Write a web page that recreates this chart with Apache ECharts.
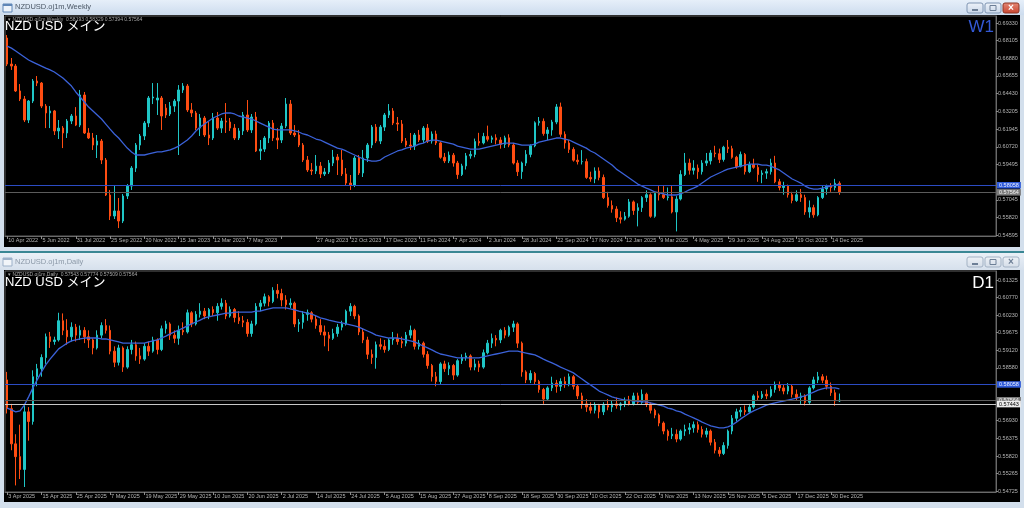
<!DOCTYPE html>
<html><head><meta charset="utf-8">
<script src="https://cdn.jsdelivr.net/npm/echarts@6/dist/echarts.min.js"></script>
<style>html,body{margin:0;padding:0;background:#cfdcec;overflow:hidden}#c{width:1024px;height:508px}</style>
</head><body><div id="c"></div>
<script>
// ---------------- Weekly (W1) data : week starting 10 Apr 2022 ... 28 Dec 2025 ----------------
const weeklyTickLabels = ['10 Apr 2022','5 Jun 2022','31 Jul 2022','25 Sep 2022','20 Nov 2022','15 Jan 2023','12 Mar 2023','7 May 2023','','27 Aug 2023','22 Oct 2023','17 Dec 2023','11 Feb 2024','7 Apr 2024','2 Jun 2024','28 Jul 2024','22 Sep 2024','17 Nov 2024','12 Jan 2025','9 Mar 2025','4 May 2025','29 Jun 2025','24 Aug 2025','19 Oct 2025','14 Dec 2025'];
const weeklyPriceTicks = [0.54595,0.55820,0.57045,0.59495,0.60720,0.61945,0.63205,0.64430,0.65655,0.66880,0.68105,0.69330];
const weeklyLevels = [0.58058, 0.57564];
const weeklyOpen = [
0.6829,0.6648,0.6634,0.6461,0.6405,0.6259,0.6391,0.6530,0.6516,0.6356,
0.6308,0.6322,0.6183,0.6203,0.6169,0.6252,0.6287,0.6224,0.6433,0.6169,
0.6134,0.6085,0.6113,0.5981,0.5738,0.5592,0.5627,0.5557,0.5731,0.5800,
0.5925,0.6085,0.6148,0.6238,0.6412,0.6398,0.6412,0.6342,0.6301,0.6356,
0.6391,0.6468,0.6495,0.6329,0.6308,0.6203,0.6273,0.6155,0.6134,0.6273,
0.6203,0.6252,0.6245,0.6203,0.6134,0.6183,0.6294,0.6190,0.6280,0.6044,
0.6057,0.6134,0.6238,0.6134,0.6120,0.6217,0.6370,0.6169,0.6155,0.6085,
0.5981,0.5912,0.5905,0.5939,0.5884,0.5898,0.5960,0.6002,0.5981,0.5884,
0.5821,0.5807,0.5995,0.5891,0.5995,0.6085,0.6210,0.6113,0.6210,0.6294,
0.6322,0.6238,0.6231,0.6113,0.6085,0.6078,0.6155,0.6120,0.6203,0.6113,
0.6162,0.6100,0.6000,0.5975,0.6015,0.5960,0.5880,0.5940,0.6010,0.6020,
0.6110,0.6100,0.6145,0.6125,0.6135,0.6120,0.6090,0.6135,0.6085,0.5960,
0.5900,0.5960,0.6020,0.6080,0.6240,0.6250,0.6165,0.6190,0.6245,0.6350,
0.6160,0.6100,0.6055,0.5980,0.5970,0.5970,0.5860,0.5850,0.5905,0.5860,
0.5720,0.5665,0.5640,0.5580,0.5570,0.5590,0.5690,0.5630,0.5650,0.5720,
0.5740,0.5590,0.5750,0.5740,0.5720,0.5725,0.5620,0.5710,0.5880,0.5960,
0.5910,0.5925,0.5900,0.5960,0.5975,0.6030,0.6025,0.5985,0.6070,0.6060,
0.6000,0.5935,0.6020,0.5900,0.5950,0.5930,0.5880,0.5890,0.5900,0.5960,
0.5830,0.5790,0.5800,0.5740,0.5700,0.5740,0.5720,0.5620,0.5650,0.5600,
0.5720,0.5780,0.5800,0.5790,0.58193];
const weeklyHigh = [
0.6850,0.6690,0.6648,0.6509,0.6426,0.6398,0.6544,0.6565,0.6523,0.6370,
0.6356,0.6329,0.6259,0.6217,0.6266,0.6301,0.6349,0.6468,0.6454,0.6203,
0.6169,0.6155,0.6127,0.5995,0.5773,0.5807,0.5717,0.5745,0.5814,0.5939,
0.6099,0.6162,0.6252,0.6426,0.6516,0.6516,0.6426,0.6370,0.6384,0.6405,
0.6502,0.6516,0.6509,0.6377,0.6322,0.6301,0.6287,0.6245,0.6308,0.6315,
0.6273,0.6377,0.6273,0.6231,0.6203,0.6315,0.6398,0.6301,0.6315,0.6120,
0.6148,0.6252,0.6259,0.6203,0.6238,0.6412,0.6398,0.6224,0.6190,0.6099,
0.6009,0.5960,0.6016,0.5967,0.5925,0.5981,0.6051,0.6023,0.6051,0.5925,
0.5877,0.6009,0.6016,0.6051,0.6099,0.6224,0.6231,0.6224,0.6308,0.6370,
0.6342,0.6280,0.6259,0.6134,0.6169,0.6169,0.6190,0.6217,0.6231,0.6180,
0.6185,0.6110,0.6030,0.6040,0.6030,0.5975,0.5955,0.6030,0.6045,0.6130,
0.6170,0.6170,0.6220,0.6150,0.6160,0.6140,0.6150,0.6160,0.6100,0.5980,
0.5970,0.6050,0.6090,0.6250,0.6280,0.6270,0.6210,0.6260,0.6370,0.6380,
0.6180,0.6120,0.6070,0.6020,0.6050,0.5990,0.5900,0.5930,0.5930,0.5880,
0.5760,0.5700,0.5660,0.5625,0.5620,0.5710,0.5700,0.5680,0.5730,0.5770,
0.5750,0.5760,0.5800,0.5800,0.5790,0.5800,0.5730,0.5910,0.6030,0.5990,
0.5980,0.5950,0.5980,0.6030,0.6050,0.6080,0.6060,0.6080,0.6120,0.6080,
0.6010,0.6040,0.6030,0.5970,0.5990,0.5950,0.5910,0.5920,0.5990,0.6010,
0.5850,0.5830,0.5810,0.5760,0.5770,0.5780,0.5740,0.5700,0.5670,0.5730,
0.5800,0.5810,0.5820,0.5850,0.58329];
const weeklyLow = [
0.6634,0.6607,0.6454,0.6391,0.6245,0.6238,0.6377,0.6495,0.6342,0.6203,
0.6203,0.6155,0.6127,0.6064,0.6134,0.6231,0.6217,0.6210,0.6162,0.6127,
0.6051,0.5995,0.5953,0.5731,0.5564,0.5571,0.5508,0.5543,0.5710,0.5773,
0.5898,0.6051,0.6120,0.6210,0.6370,0.6294,0.6190,0.6273,0.6287,0.6315,
0.6016,0.6447,0.6315,0.6280,0.6190,0.6148,0.6141,0.6085,0.6120,0.6190,
0.6169,0.6169,0.6183,0.6120,0.6120,0.6155,0.6176,0.6169,0.6037,0.5981,
0.6037,0.6099,0.6113,0.6057,0.6099,0.6203,0.6155,0.6141,0.6071,0.5967,
0.5898,0.5877,0.5884,0.5856,0.5870,0.5884,0.5939,0.5877,0.5870,0.5807,
0.5773,0.5793,0.5877,0.5863,0.5967,0.6064,0.6099,0.6092,0.6183,0.6273,
0.6224,0.6183,0.6099,0.6071,0.6051,0.6051,0.6106,0.6099,0.6099,0.6095,
0.6085,0.5990,0.5960,0.5960,0.5935,0.5850,0.5870,0.5915,0.5990,0.6000,
0.6080,0.6090,0.6110,0.6100,0.6090,0.6060,0.6065,0.6070,0.5950,0.5870,
0.5850,0.5940,0.6000,0.6070,0.6220,0.6150,0.6120,0.6150,0.6230,0.6140,
0.6060,0.6030,0.5970,0.5950,0.5950,0.5850,0.5830,0.5820,0.5840,0.5710,
0.5650,0.5615,0.5550,0.5540,0.5560,0.5580,0.5600,0.5520,0.5620,0.5690,
0.5580,0.5580,0.5700,0.5710,0.5700,0.5610,0.5485,0.5700,0.5870,0.5880,
0.5880,0.5850,0.5880,0.5940,0.5950,0.6000,0.5960,0.5970,0.6030,0.5990,
0.5920,0.5930,0.5880,0.5890,0.5920,0.5830,0.5820,0.5850,0.5880,0.5820,
0.5770,0.5740,0.5720,0.5680,0.5690,0.5690,0.5600,0.5580,0.5580,0.5590,
0.5710,0.5740,0.5760,0.5770,0.57394];
const weeklyClose = [
0.6648,0.6634,0.6461,0.6405,0.6259,0.6391,0.6530,0.6516,0.6356,0.6308,
0.6322,0.6183,0.6203,0.6169,0.6252,0.6287,0.6224,0.6433,0.6169,0.6134,
0.6085,0.6113,0.5981,0.5738,0.5592,0.5627,0.5557,0.5731,0.5800,0.5925,
0.6085,0.6148,0.6238,0.6412,0.6419,0.6412,0.6287,0.6294,0.6356,0.6391,
0.6468,0.6495,0.6329,0.6308,0.6203,0.6273,0.6155,0.6134,0.6273,0.6203,
0.6252,0.6245,0.6203,0.6134,0.6183,0.6294,0.6190,0.6280,0.6044,0.6057,
0.6134,0.6238,0.6134,0.6120,0.6217,0.6370,0.6169,0.6155,0.6085,0.5981,
0.5912,0.5905,0.5939,0.5884,0.5898,0.5960,0.6002,0.5981,0.5884,0.5821,
0.5807,0.5995,0.5891,0.5995,0.6085,0.6210,0.6113,0.6210,0.6294,0.6322,
0.6238,0.6231,0.6113,0.6085,0.6078,0.6155,0.6120,0.6203,0.6113,0.6162,
0.6100,0.6000,0.5975,0.6015,0.5960,0.5880,0.5940,0.6010,0.6020,0.6110,
0.6100,0.6145,0.6125,0.6135,0.6120,0.6090,0.6135,0.6085,0.5960,0.5900,
0.5960,0.6020,0.6080,0.6240,0.6250,0.6165,0.6190,0.6245,0.6350,0.6160,
0.6100,0.6055,0.5980,0.5970,0.5970,0.5860,0.5850,0.5905,0.5860,0.5720,
0.5665,0.5640,0.5580,0.5570,0.5590,0.5690,0.5630,0.5650,0.5720,0.5740,
0.5590,0.5750,0.5740,0.5720,0.5725,0.5620,0.5710,0.5880,0.5960,0.5910,
0.5925,0.5900,0.5960,0.5975,0.6030,0.6025,0.5985,0.6070,0.6060,0.6000,
0.5935,0.6020,0.5900,0.5950,0.5930,0.5880,0.5890,0.5900,0.5960,0.5830,
0.5790,0.5800,0.5740,0.5700,0.5740,0.5720,0.5620,0.5650,0.5600,0.5720,
0.5780,0.5800,0.5790,0.5820,0.57564];
const weeklyMA = [
0.6773,0.6759,0.6739,0.6718,0.6697,0.6676,0.6662,0.6648,0.6634,0.6620,
0.6607,0.6593,0.6572,0.6551,0.6523,0.6495,0.6454,0.6419,0.6384,0.6349,
0.6322,0.6294,0.6266,0.6231,0.6196,0.6162,0.6134,0.6099,0.6064,0.6037,
0.6016,0.6016,0.6016,0.6023,0.6030,0.6037,0.6037,0.6044,0.6051,0.6064,
0.6078,0.6099,0.6120,0.6148,0.6183,0.6210,0.6231,0.6252,0.6273,0.6287,
0.6301,0.6308,0.6308,0.6301,0.6287,0.6280,0.6273,0.6266,0.6252,0.6238,
0.6224,0.6210,0.6196,0.6190,0.6190,0.6190,0.6190,0.6183,0.6176,0.6162,
0.6155,0.6141,0.6127,0.6120,0.6106,0.6092,0.6078,0.6064,0.6057,0.6044,
0.6030,0.6016,0.6002,0.5988,0.5981,0.5974,0.5974,0.5981,0.6002,0.6016,
0.6030,0.6044,0.6051,0.6064,0.6071,0.6078,0.6092,0.6099,0.6113,0.6120,
0.6120,0.6113,0.6106,0.6099,0.6092,0.6078,0.6071,0.6064,0.6057,0.6057,
0.6057,0.6064,0.6071,0.6078,0.6085,0.6092,0.6099,0.6099,0.6099,0.6092,
0.6085,0.6085,0.6085,0.6092,0.6106,0.6113,0.6120,0.6127,0.6134,0.6134,
0.6127,0.6120,0.6106,0.6092,0.6078,0.6064,0.6044,0.6030,0.6009,0.5988,
0.5967,0.5946,0.5918,0.5898,0.5877,0.5856,0.5835,0.5814,0.5800,0.5786,
0.5773,0.5759,0.5752,0.5745,0.5738,0.5738,0.5738,0.5745,0.5759,0.5773,
0.5786,0.5800,0.5821,0.5842,0.5863,0.5877,0.5891,0.5905,0.5918,0.5925,
0.5932,0.5939,0.5946,0.5953,0.5953,0.5953,0.5946,0.5946,0.5939,0.5925,
0.5912,0.5891,0.5870,0.5849,0.5835,0.5821,0.5800,0.5786,0.5779,0.5779,
0.5786,0.5793,0.5800,0.5807,0.5814];

// ---------------- Daily (D1) data : 3 Apr 2025 ... 2 Jan 2026 ----------------
const dailyTickLabels = ['3 Apr 2025','15 Apr 2025','25 Apr 2025','7 May 2025','19 May 2025','29 May 2025','10 Jun 2025','20 Jun 2025','2 Jul 2025','14 Jul 2025','24 Jul 2025','5 Aug 2025','15 Aug 2025','27 Aug 2025','8 Sep 2025','18 Sep 2025','30 Sep 2025','10 Oct 2025','22 Oct 2025','3 Nov 2025','13 Nov 2025','25 Nov 2025','5 Dec 2025','17 Dec 2025','30 Dec 2025'];
const dailyPriceTicks = [0.54725,0.55265,0.55820,0.56375,0.56930,0.58580,0.59120,0.59675,0.60230,0.60770,0.61325];
const dailyLevels = [0.58058, 0.57564, 0.57443];
const dailyOpen = [
0.5820,0.5730,0.5620,0.5580,0.5540,0.5720,0.5690,0.5830,0.5855,0.5890,
0.5955,0.5940,0.5945,0.6005,0.5975,0.5955,0.5985,0.5960,0.5975,0.5955,
0.5945,0.5920,0.5960,0.5990,0.5975,0.5910,0.5875,0.5920,0.5860,0.5915,
0.5930,0.5895,0.5885,0.5925,0.5910,0.5945,0.5915,0.5980,0.5995,0.5960,
0.5950,0.5975,0.5970,0.6030,0.5995,0.6025,0.6035,0.6020,0.6040,0.6030,
0.6050,0.6060,0.6020,0.6040,0.6015,0.6005,0.6000,0.5965,0.5995,0.6050,
0.6060,0.6080,0.6065,0.6100,0.6090,0.6070,0.6055,0.6060,0.5995,0.6000,
0.6025,0.6030,0.6010,0.5990,0.5970,0.5960,0.5950,0.5965,0.5985,0.5995,
0.6035,0.6050,0.6020,0.5970,0.5945,0.5900,0.5890,0.5930,0.5925,0.5915,
0.5945,0.5950,0.5940,0.5935,0.5960,0.5975,0.5925,0.5935,0.5900,0.5865,
0.5830,0.5815,0.5870,0.5855,0.5865,0.5835,0.5880,0.5890,0.5895,0.5860,
0.5870,0.5860,0.5905,0.5935,0.5950,0.5945,0.5975,0.5960,0.5985,0.5995,
0.5935,0.5845,0.5820,0.5840,0.5815,0.5790,0.5760,0.5795,0.5810,0.5800,
0.5815,0.5805,0.5830,0.5800,0.5770,0.5745,0.5735,0.5725,0.5740,0.5720,
0.5740,0.5735,0.5745,0.5740,0.5745,0.5755,0.5745,0.5770,0.5750,0.5775,
0.5745,0.5725,0.5710,0.5685,0.5660,0.5645,0.5650,0.5635,0.5660,0.5665,
0.5670,0.5680,0.5665,0.5650,0.5660,0.5625,0.5600,0.5590,0.5615,0.5660,
0.5700,0.5720,0.5725,0.5720,0.5735,0.5770,0.5765,0.5775,0.5770,0.5790,
0.5805,0.5795,0.5785,0.5800,0.5775,0.5765,0.5770,0.5750,0.5795,0.5820,
0.5830,0.5819,0.5800,0.5780,0.57543];
const dailyHigh = [
0.5845,0.5745,0.5650,0.5680,0.5740,0.5735,0.5850,0.5870,0.5900,0.5965,
0.5970,0.5955,0.6030,0.6028,0.6010,0.6000,0.5995,0.5990,0.5985,0.5975,
0.5950,0.5975,0.6000,0.6010,0.5990,0.5925,0.5930,0.5925,0.5925,0.5945,
0.5940,0.5920,0.5935,0.5940,0.5955,0.5950,0.5990,0.6005,0.6000,0.5975,
0.5990,0.6000,0.6040,0.6035,0.6035,0.6060,0.6045,0.6045,0.6050,0.6060,
0.6075,0.6070,0.6050,0.6045,0.6035,0.6020,0.6010,0.6005,0.6060,0.6070,
0.6090,0.6085,0.6110,0.6120,0.6105,0.6085,0.6075,0.6065,0.6010,0.6035,
0.6040,0.6035,0.6020,0.6010,0.5990,0.5970,0.5980,0.5995,0.6005,0.6040,
0.6060,0.6055,0.6025,0.5980,0.5955,0.5915,0.5940,0.5950,0.5945,0.5950,
0.5970,0.5965,0.5955,0.5970,0.5990,0.5980,0.5945,0.5940,0.5910,0.5870,
0.5845,0.5875,0.5880,0.5875,0.5870,0.5885,0.5900,0.5905,0.5900,0.5885,
0.5880,0.5915,0.5945,0.5965,0.5960,0.5980,0.5985,0.5990,0.6005,0.6000,
0.5940,0.5850,0.5850,0.5845,0.5820,0.5795,0.5800,0.5830,0.5820,0.5825,
0.5830,0.5840,0.5835,0.5805,0.5780,0.5760,0.5750,0.5750,0.5745,0.5750,
0.5760,0.5755,0.5765,0.5750,0.5765,0.5770,0.5780,0.5780,0.5790,0.5780,
0.5750,0.5730,0.5715,0.5690,0.5665,0.5670,0.5665,0.5665,0.5680,0.5685,
0.5690,0.5690,0.5675,0.5670,0.5665,0.5635,0.5610,0.5625,0.5665,0.5710,
0.5730,0.5735,0.5740,0.5745,0.5775,0.5785,0.5785,0.5790,0.5800,0.5815,
0.5815,0.5805,0.5810,0.5805,0.5790,0.5780,0.5775,0.5800,0.5830,0.5845,
0.5838,0.5833,0.5812,0.5790,0.57774];
const dailyLow = [
0.5715,0.5600,0.5490,0.5510,0.5485,0.5630,0.5680,0.5800,0.5830,0.5870,
0.5920,0.5930,0.5940,0.5960,0.5930,0.5940,0.5940,0.5945,0.5935,0.5920,
0.5900,0.5915,0.5950,0.5965,0.5900,0.5860,0.5865,0.5845,0.5855,0.5900,
0.5880,0.5870,0.5880,0.5895,0.5905,0.5900,0.5910,0.5965,0.5945,0.5935,
0.5930,0.5960,0.5965,0.5985,0.5990,0.6015,0.6010,0.6010,0.6020,0.6005,
0.6040,0.6010,0.6015,0.6000,0.5995,0.5985,0.5955,0.5955,0.5990,0.6035,
0.6050,0.6050,0.6060,0.6075,0.6050,0.6040,0.6045,0.5985,0.5970,0.5980,
0.6005,0.6000,0.5980,0.5960,0.5925,0.5910,0.5945,0.5955,0.5975,0.5990,
0.6020,0.6010,0.5960,0.5935,0.5885,0.5870,0.5855,0.5915,0.5905,0.5910,
0.5930,0.5930,0.5920,0.5925,0.5950,0.5915,0.5915,0.5890,0.5855,0.5815,
0.5800,0.5805,0.5845,0.5835,0.5820,0.5830,0.5870,0.5880,0.5850,0.5850,
0.5845,0.5855,0.5900,0.5920,0.5925,0.5935,0.5950,0.5955,0.5970,0.5920,
0.5830,0.5810,0.5810,0.5805,0.5780,0.5745,0.5755,0.5785,0.5780,0.5785,
0.5795,0.5800,0.5790,0.5760,0.5730,0.5720,0.5715,0.5715,0.5700,0.5710,
0.5725,0.5720,0.5730,0.5725,0.5735,0.5740,0.5740,0.5745,0.5745,0.5735,
0.5715,0.5700,0.5675,0.5650,0.5630,0.5635,0.5625,0.5630,0.5645,0.5650,
0.5655,0.5655,0.5640,0.5640,0.5615,0.5590,0.5580,0.5585,0.5605,0.5650,
0.5690,0.5705,0.5710,0.5715,0.5730,0.5755,0.5760,0.5760,0.5765,0.5780,
0.5785,0.5775,0.5775,0.5765,0.5755,0.5745,0.5740,0.5745,0.5790,0.5810,
0.5810,0.5790,0.5770,0.5739,0.57509];
const dailyClose = [
0.5730,0.5620,0.5580,0.5540,0.5720,0.5690,0.5830,0.5855,0.5890,0.5955,
0.5940,0.5945,0.6005,0.5975,0.5955,0.5985,0.5960,0.5975,0.5955,0.5945,
0.5920,0.5960,0.5990,0.5975,0.5910,0.5875,0.5920,0.5860,0.5915,0.5930,
0.5895,0.5885,0.5925,0.5910,0.5945,0.5915,0.5980,0.5995,0.5960,0.5950,
0.5975,0.5970,0.6030,0.5995,0.6025,0.6035,0.6020,0.6040,0.6030,0.6050,
0.6060,0.6020,0.6040,0.6015,0.6005,0.6000,0.5965,0.5995,0.6050,0.6060,
0.6080,0.6065,0.6100,0.6090,0.6070,0.6055,0.6060,0.5995,0.6000,0.6025,
0.6030,0.6010,0.5990,0.5970,0.5960,0.5950,0.5965,0.5985,0.5995,0.6035,
0.6050,0.6020,0.5970,0.5945,0.5900,0.5890,0.5930,0.5925,0.5915,0.5945,
0.5950,0.5940,0.5935,0.5960,0.5975,0.5925,0.5935,0.5900,0.5865,0.5830,
0.5815,0.5870,0.5855,0.5865,0.5835,0.5880,0.5890,0.5895,0.5860,0.5870,
0.5860,0.5905,0.5935,0.5950,0.5945,0.5975,0.5960,0.5985,0.5995,0.5935,
0.5845,0.5820,0.5840,0.5815,0.5790,0.5760,0.5795,0.5810,0.5800,0.5815,
0.5805,0.5830,0.5800,0.5770,0.5745,0.5735,0.5725,0.5740,0.5720,0.5740,
0.5735,0.5745,0.5740,0.5745,0.5755,0.5745,0.5770,0.5750,0.5775,0.5745,
0.5725,0.5710,0.5685,0.5660,0.5645,0.5650,0.5635,0.5660,0.5665,0.5670,
0.5680,0.5665,0.5650,0.5660,0.5625,0.5600,0.5590,0.5615,0.5660,0.5700,
0.5720,0.5725,0.5720,0.5735,0.5770,0.5765,0.5775,0.5770,0.5790,0.5805,
0.5795,0.5785,0.5800,0.5775,0.5765,0.5770,0.5750,0.5795,0.5820,0.5830,
0.5819,0.5800,0.5780,0.5754,0.57564];
const dailyMA = [
0.5732,0.5726,0.5720,0.5723,0.5741,0.5767,0.5795,0.5820,0.5845,0.5867,
0.5885,0.5901,0.5917,0.5926,0.5935,0.5942,0.5945,0.5948,0.5951,0.5951,
0.5951,0.5951,0.5948,0.5948,0.5945,0.5942,0.5939,0.5935,0.5935,0.5935,
0.5935,0.5935,0.5935,0.5939,0.5942,0.5945,0.5951,0.5957,0.5964,0.5970,
0.5976,0.5982,0.5989,0.5995,0.6001,0.6007,0.6014,0.6017,0.6020,0.6023,
0.6026,0.6029,0.6029,0.6032,0.6032,0.6032,0.6032,0.6032,0.6035,0.6035,
0.6039,0.6042,0.6045,0.6045,0.6045,0.6045,0.6042,0.6039,0.6035,0.6032,
0.6029,0.6026,0.6020,0.6014,0.6011,0.6007,0.6004,0.6001,0.5998,0.5995,
0.5992,0.5989,0.5985,0.5979,0.5973,0.5967,0.5960,0.5957,0.5954,0.5951,
0.5951,0.5951,0.5948,0.5945,0.5942,0.5939,0.5932,0.5926,0.5920,0.5914,
0.5907,0.5901,0.5898,0.5895,0.5892,0.5889,0.5889,0.5889,0.5889,0.5889,
0.5889,0.5892,0.5895,0.5898,0.5901,0.5904,0.5907,0.5910,0.5910,0.5910,
0.5907,0.5904,0.5901,0.5898,0.5892,0.5885,0.5879,0.5873,0.5867,0.5860,
0.5854,0.5848,0.5842,0.5832,0.5823,0.5813,0.5804,0.5795,0.5785,0.5779,
0.5773,0.5767,0.5763,0.5760,0.5757,0.5757,0.5754,0.5754,0.5751,0.5751,
0.5748,0.5745,0.5741,0.5738,0.5732,0.5729,0.5723,0.5720,0.5713,0.5707,
0.5701,0.5695,0.5688,0.5682,0.5676,0.5673,0.5670,0.5670,0.5673,0.5679,
0.5688,0.5698,0.5707,0.5716,0.5723,0.5729,0.5735,0.5741,0.5745,0.5748,
0.5751,0.5754,0.5757,0.5760,0.5763,0.5767,0.5770,0.5776,0.5782,0.5788,
0.5792,0.5795,0.5795,0.5795,0.5792];

// ---------------- chart ----------------
const SLOTS = 231;            // bar slots across the plot (incl. right-hand chart shift)
const BULL = '#1fc6c6', BEAR = '#ff4d12', MA_COLOR = '#3b62d9';
const FONT = "'Liberation Sans', Arial, 'Noto Sans CJK JP', sans-serif";
const cats = Array.from({length: SLOTS}, (_, i) => String(i));
const candles = (o, h, l, c) => o.map((v, i) => [v, c[i], l[i], h[i]]);

function xAxisFor(gridIndex, labels) {
  const show = i => i % 8 === 0 && (i / 8) < labels.length;
  return {
    type: 'category', gridIndex, data: cats, boundaryGap: true,
    axisLine: {show: true, lineStyle: {color: '#6a6a6a', width: 1}},
    axisTick: {show: true, alignWithLabel: true, length: 3, interval: show, lineStyle: {color: '#8c8c8c'}},
    axisLabel: {show: true, interval: show, formatter: (v, i) => labels[i / 8] || '',
      color: '#b4b4b4', fontSize: 5.5, fontFamily: FONT, align: 'left', margin: 2, padding: [0, 0, 0, 1]},
    splitLine: {show: false}
  };
}
function yAxisFor(gridIndex, min, max, ticks) {
  return {
    type: 'value', gridIndex, position: 'right', min, max,
    axisLine: {show: true, lineStyle: {color: '#6a6a6a'}},
    axisTick: {show: true, length: 2, customValues: ticks, lineStyle: {color: '#8c8c8c'}},
    axisLabel: {show: true, customValues: ticks, formatter: v => v.toFixed(5),
      color: '#b4b4b4', fontSize: 5.5, fontFamily: FONT, margin: 2},
    splitLine: {show: false}
  };
}
function levelLines(levels, styles) {
  return {
    silent: true, symbol: ['none', 'none'], animation: false, precision: 5,
    label: {show: true, position: 'end', distance: 1, fontSize: 5.5, fontFamily: FONT,
      padding: [1, 2, 0, 2], formatter: p => levels[p.dataIndex].toFixed(5)},
    data: levels.map((v, k) => ({yAxis: v, lineStyle: {color: styles[k].line, width: 1, type: 'solid'},
      label: {backgroundColor: styles[k].bg, color: styles[k].fg}}))
  };
}
function candleSeries(xi, data) {
  return {type: 'candlestick', xAxisIndex: xi, yAxisIndex: xi, data, barWidth: 2, silent: true,
    itemStyle: {color: BULL, color0: BEAR, borderColor: BULL, borderColor0: BEAR, borderWidth: 1}};
}
function maSeries(xi, data, marks) {
  return {type: 'line', xAxisIndex: xi, yAxisIndex: xi, data, showSymbol: false, silent: true, clip: false,
    lineStyle: {color: MA_COLOR, width: 1.3}, z: 3, markLine: marks};
}

const grad = (a, b) => new echarts.graphic.LinearGradient(0, 0, 0, 1, [{offset: 0, color: a}, {offset: 1, color: b}]);
function button(x, y, active, kind) {
  const isClose = kind === 'x';
  const fill = active ? (isClose ? grad('#e58a78', '#c8442e') : grad('#eef3fa', '#c9d7e8')) : grad('#eef2f7', '#d3dce7');
  const stroke = active ? (isClose ? '#8e3626' : '#7f95b2') : '#a3b2c4';
  const els = [{type: 'rect', z: 1, shape: {x, y, width: 16, height: 10, r: 2}, style: {fill, stroke, lineWidth: 1}}];
  const ic = active && isClose ? '#ffffff' : '#6d7f96';
  if (kind === '-') els.push({type: 'rect', z: 2, shape: {x: x + 5, y: y + 6, width: 6, height: 2}, style: {fill: ic}});
  if (kind === 'o') els.push({type: 'rect', z: 2, shape: {x: x + 5, y: y + 2.5, width: 6, height: 5}, style: {fill: 'none', stroke: ic, lineWidth: 1}});
  if (kind === 'x') els.push({type: 'text', z: 2, x: x + 8, y: y + 5, style: {text: '×', fill: ic, fontSize: 10, fontWeight: 'bold', fontFamily: FONT, align: 'center', verticalAlign: 'middle'}});
  return els;
}
function windowIcon(x, y, active) {
  return [{type: 'rect', z: 1, shape: {x, y, width: 9, height: 8}, style: {fill: active ? '#eef4fb' : '#f2f5f9', stroke: active ? '#5f86b7' : '#9db1c9', lineWidth: 1}},
          {type: 'rect', z: 2, shape: {x, y, width: 9, height: 2}, style: {fill: active ? '#5f86b7' : '#9db1c9'}}];
}

const graphic = [
  {type: 'rect', z: -20, shape: {x: 0, y: 0, width: 1024, height: 508}, style: {fill: '#d3dfec'}},
  // window 1
  {type: 'rect', z: -19, shape: {x: 0, y: 0, width: 1024, height: 15}, style: {fill: grad('#e6eff9', '#cddcee')}},
  ...windowIcon(3, 4, true),
  {type: 'text', z: 2, x: 15, y: 3.5, style: {text: 'NZDUSD.oj1m,Weekly', fill: '#4c5866', fontSize: 7.5, fontFamily: FONT}},
  ...button(967, 3, true, '-'), ...button(985, 3, true, 'o'), ...button(1003, 3, true, 'x'),
  {type: 'rect', z: -18, shape: {x: 4, y: 15, width: 1016, height: 232}, style: {fill: '#000000'}},
  // separator
  {type: 'rect', z: -18, shape: {x: 0, y: 251, width: 1024, height: 2}, style: {fill: '#3a8794'}},
  // window 2
  {type: 'rect', z: -19, shape: {x: 0, y: 253, width: 1024, height: 17}, style: {fill: grad('#eaf0f7', '#d6e0ec')}},
  ...windowIcon(3, 258, false),
  {type: 'text', z: 2, x: 15, y: 258, style: {text: 'NZDUSD.oj1m,Daily', fill: '#8c99a8', fontSize: 7.5, fontFamily: FONT}},
  ...button(967, 257, false, '-'), ...button(985, 257, false, 'o'), ...button(1003, 257, false, 'x'),
  {type: 'rect', z: -18, shape: {x: 4, y: 270, width: 1016, height: 232}, style: {fill: '#000000'}},
  // chart captions
  {type: 'text', z: 50, x: 8, y: 17.5, style: {text: '▾ NZDUSD.oj1m,Weekly  0.58193 0.58329 0.57394 0.57564', fill: '#a8a8a8', fontSize: 5, fontFamily: FONT}},
  {type: 'text', z: 50, x: 5, y: 20, style: {text: 'NZD USD メイン', fill: '#ffffff', fontSize: 13, fontFamily: FONT}},
  {type: 'text', z: 50, x: 994, y: 19, style: {text: 'W1', fill: '#3358d4', fontSize: 17, fontFamily: FONT, align: 'right'}},
  {type: 'text', z: 50, x: 8, y: 272.5, style: {text: '▾ NZDUSD.oj1m,Daily  0.57543 0.57774 0.57509 0.57564', fill: '#a8a8a8', fontSize: 5, fontFamily: FONT}},
  {type: 'text', z: 50, x: 5, y: 276, style: {text: 'NZD USD メイン', fill: '#ffffff', fontSize: 13, fontFamily: FONT}},
  {type: 'text', z: 50, x: 994, y: 275, style: {text: 'D1', fill: '#ffffff', fontSize: 17, fontFamily: FONT, align: 'right'}}
];

const chart = echarts.init(document.getElementById('c'), null, {renderer: 'canvas'});
chart.setOption({
  animation: false,
  backgroundColor: '#d3dfec',
  graphic,
  grid: [
    {left: 5, top: 16, width: 991, height: 220, show: true, borderColor: '#5e5e5e', borderWidth: 1, backgroundColor: 'transparent'},
    {left: 5, top: 271, width: 991, height: 221, show: true, borderColor: '#5e5e5e', borderWidth: 1, backgroundColor: 'transparent'}
  ],
  xAxis: [xAxisFor(0, weeklyTickLabels), xAxisFor(1, dailyTickLabels)],
  yAxis: [yAxisFor(0, 0.5453, 0.6982, weeklyPriceTicks), yAxisFor(1, 0.54694, 0.61606, dailyPriceTicks)],
  series: [
    candleSeries(0, candles(weeklyOpen, weeklyHigh, weeklyLow, weeklyClose)),
    maSeries(0, weeklyMA, levelLines(weeklyLevels, [
      {line: '#2c4cc4', bg: '#2f5ad8', fg: '#e8eeff'},
      {line: '#5c5c5c', bg: '#7c7c7c', fg: '#f2f2f2'}])),
    candleSeries(1, candles(dailyOpen, dailyHigh, dailyLow, dailyClose)),
    maSeries(1, dailyMA, levelLines(dailyLevels, [
      {line: '#2c4cc4', bg: '#2f5ad8', fg: '#e8eeff'},
      {line: '#5c5c5c', bg: '#7c7c7c', fg: '#f2f2f2'},
      {line: '#c8c8c8', bg: '#ececec', fg: '#000000'}]))
  ]
});
</script></body></html>
